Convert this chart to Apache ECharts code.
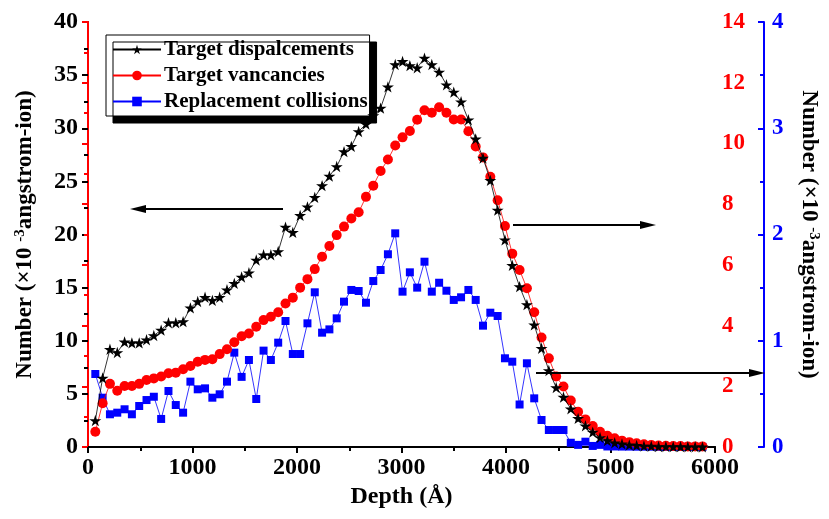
<!DOCTYPE html>
<html>
<head>
<meta charset="utf-8">
<script src="https://cdn.jsdelivr.net/npm/echarts@6/dist/echarts.min.js"></script>
<style>
  html, body { margin: 0; padding: 0; background: #fff; }
  #chart { width: 829px; height: 519px; }
</style>
</head>
<body>
<div id="chart"></div>
<script>
// depth bins (Å)
const depth = [
  70, 140, 210, 280, 350, 420, 490, 560, 630, 700,
  770, 840, 910, 980, 1050, 1120, 1190, 1260, 1330, 1400,
  1470, 1540, 1610, 1680, 1750, 1820, 1890, 1960, 2030, 2100,
  2170, 2240, 2310, 2380, 2450, 2520, 2590, 2660, 2730, 2800,
  2870, 2940, 3010, 3080, 3150, 3220, 3290, 3360, 3430, 3500,
  3570, 3640, 3710, 3780, 3850, 3920, 3990, 4060, 4130, 4200,
  4270, 4340, 4410, 4480, 4550, 4620, 4690, 4760, 4830, 4900,
  4970, 5040, 5110, 5180, 5250, 5320, 5390, 5460, 5530, 5600,
  5670, 5740, 5810, 5880
];

// left axis
const displacements = [
  2.5, 6.5, 9.2, 8.9, 9.9, 9.8, 9.8, 10.1, 10.5, 11.0,
  11.7, 11.7, 11.8, 13.1, 13.7, 14.1, 13.8, 14.1, 14.8, 15.4,
  16.0, 16.4, 17.6, 18.1, 18.1, 18.4, 20.7, 20.2, 21.8, 22.6,
  23.5, 24.6, 25.5, 26.4, 27.8, 28.3, 29.7, 30.4, 31.2, 31.9,
  33.9, 36.0, 36.3, 35.9, 35.7, 36.6, 36.0, 35.3, 34.1, 33.4,
  32.5, 30.8, 29.0, 27.2, 25.1, 22.3, 19.5, 17.1, 15.1, 13.4,
  11.5, 9.3, 7.2, 5.6, 4.7, 3.6, 2.7, 2.0, 1.4, 0.9,
  0.6, 0.4, 0.3, 0.2, 0.15, 0.1, 0.08, 0.05, 0.05, 0.03,
  0.03, 0.02, 0.02, 0.01
];

// red axis
const vacancies = [
  0.50, 1.44, 2.08, 1.85, 2.01, 2.01, 2.08, 2.21, 2.26, 2.32,
  2.43, 2.45, 2.56, 2.67, 2.81, 2.87, 2.89, 3.06, 3.22, 3.45,
  3.65, 3.74, 3.96, 4.18, 4.29, 4.44, 4.73, 4.92, 5.25, 5.53,
  5.86, 6.27, 6.62, 6.98, 7.26, 7.53, 7.73, 8.24, 8.61, 9.09,
  9.47, 9.93, 10.2, 10.41, 10.78, 11.09, 11.01, 11.19, 11.01, 10.79,
  10.79, 10.4, 9.9, 9.54, 8.9, 8.13, 7.28, 6.37, 5.83, 5.23,
  4.44, 3.61, 2.92, 2.32, 1.99, 1.53, 1.16, 0.91, 0.69, 0.50,
  0.37, 0.29, 0.21, 0.16, 0.12, 0.09, 0.07, 0.05, 0.04, 0.03,
  0.03, 0.02, 0.02, 0.02
];

// blue axis
const replacements = [
  0.687, 0.464, 0.308, 0.323, 0.355, 0.308, 0.386, 0.442, 0.473, 0.264,
  0.527, 0.395, 0.323, 0.615, 0.543, 0.552, 0.464, 0.496, 0.615, 0.888,
  0.66, 0.819, 0.452, 0.907, 0.819, 0.982, 1.186, 0.875, 0.875, 1.164,
  1.456, 1.076, 1.107, 1.211, 1.368, 1.478, 1.468, 1.358, 1.562, 1.666,
  1.814, 2.011, 1.462, 1.644, 1.5, 1.744, 1.462, 1.546, 1.471, 1.384,
  1.409, 1.478, 1.384, 1.142, 1.264, 1.233, 0.835, 0.803, 0.4, 0.788,
  0.458, 0.254, 0.16, 0.16, 0.16, 0.04, 0.02, 0.05, 0.01, 0.02,
  0.005, 0.005, 0.004, 0.004, 0.003, 0.003, 0.003, 0.002, 0.002, 0.002,
  0.002, 0.001, 0.001, 0.001
];

const seriesNames = ["Target dispalcements", "Target vancancies", "Replacement collisions"];

const FONT = '"Liberation Serif", "Times New Roman", serif';
const STAR = "path://M50,0 L61,35 L98,35 L68,57 L79,91 L50,70 L21,91 L32,57 L2,35 L39,35 Z";

function pairs(vals) {
  return depth.map((d, i) => [d, vals[i]]);
}

function arrow(x1, x2, y) {
  const dir = x2 > x1 ? 1 : -1;
  const head = 16;
  return [
    {
      type: "line",
      shape: { x1: x1, y1: y, x2: x2 - dir * head + dir * 2, y2: y },
      style: { stroke: "#000", lineWidth: 2 },
      z: 50,
    },
    {
      type: "polygon",
      shape: { points: [[x2, y], [x2 - dir * head, y - 4], [x2 - dir * head, y + 4]] },
      style: { fill: "#000" },
      z: 50,
    },
  ];
}

const labelStyle = (color, size) => ({
  color: color,
  fontFamily: FONT,
  fontWeight: "bold",
  fontSize: size,
});

const nameRich = {
  sup: { fontFamily: FONT, fontWeight: "bold", fontSize: 15, color: "#000", verticalAlign: "top", padding: [0, 0, 10, 0] },
};

const chart = echarts.init(document.getElementById("chart"));
chart.setOption({
  animation: false,
  backgroundColor: "#fff",
  grid: { left: 88, right: 113, top: 22, bottom: 72 },
  legend: {
    orient: "vertical",
    left: 106,
    top: 35,
    padding: [4, 2, 4, 6],
    itemGap: 5,
    itemWidth: 48,
    itemHeight: 12,
    backgroundColor: "#fff",
    borderColor: "#000",
    borderWidth: 1,
    shadowColor: "#000",
    shadowBlur: 0,
    shadowOffsetX: 7,
    shadowOffsetY: 7,
    textStyle: { fontFamily: FONT, fontWeight: "bold", fontSize: 21, color: "#000", padding: [0, 0, 0, -2] },
    data: seriesNames,
  },
  xAxis: [
    {
      type: "value",
      position: "bottom",
      min: 0,
      max: 6000,
      interval: 1000,
      name: "Depth (Å)",
      nameLocation: "middle",
      nameGap: 38,
      nameTextStyle: { fontFamily: FONT, fontWeight: "bold", fontSize: 24, color: "#000" },
      axisLine: { lineStyle: { color: "#000", width: 2 } },
      axisTick: { show: true, length: 6, lineStyle: { color: "#000", width: 2 } },
      minorTick: { show: true, splitNumber: 2, length: 4, lineStyle: { color: "#000", width: 2 } },
      axisLabel: Object.assign({ margin: 9, formatter: (v) => String(v) }, labelStyle("#000", 24)),
      splitLine: { show: false },
    },
    {
      type: "value",
      position: "top",
      min: 0,
      max: 6000,
      axisLine: { show: true, lineStyle: { color: "#000", width: 2 } },
      axisTick: { show: false },
      axisLabel: { show: false },
      splitLine: { show: false },
    },
  ],
  yAxis: [
    {
      type: "value",
      position: "left",
      min: 0,
      max: 40,
      interval: 5,
      name: "Number (×10 {sup|-3}angstrom-ion)",
      nameLocation: "middle",
      nameGap: 50,
      nameTextStyle: { fontFamily: FONT, fontWeight: "bold", fontSize: 23, color: "#000", rich: nameRich },
      axisLine: { show: true, lineStyle: { color: "#000", width: 2 } },
      axisTick: { show: true, length: 6, lineStyle: { color: "#000", width: 2 } },
      minorTick: { show: true, splitNumber: 2, length: 4, lineStyle: { color: "#000", width: 2 } },
      axisLabel: Object.assign({ margin: 10 }, labelStyle("#000", 24)),
      splitLine: { show: false },
    },
    {
      type: "value",
      position: "right",
      offset: 0,
      min: 0,
      max: 14,
      interval: 2,
      axisLine: { show: true, lineStyle: { color: "#ff0000", width: 2 } },
      axisTick: { show: true, inside: true, length: 6, lineStyle: { color: "#ff0000", width: 2 } },
      minorTick: { show: true, splitNumber: 2, length: 4, lineStyle: { color: "#ff0000", width: 2 } },
      axisLabel: Object.assign({ margin: 7 }, labelStyle("#ff0000", 23)),
      splitLine: { show: false },
    },
    {
      type: "value",
      position: "right",
      offset: 49,
      min: 0,
      max: 4,
      interval: 1,
      name: "Number (×10 {sup|-3}angstrom-ion)",
      nameLocation: "middle",
      nameGap: 32,
      nameRotate: -90,
      nameTextStyle: { fontFamily: FONT, fontWeight: "bold", fontSize: 23, color: "#000", rich: nameRich },
      axisLine: { show: true, lineStyle: { color: "#0000ff", width: 2 } },
      axisTick: { show: true, inside: true, length: 6, lineStyle: { color: "#0000ff", width: 2 } },
      minorTick: { show: true, splitNumber: 2, length: 4, lineStyle: { color: "#0000ff", width: 2 } },
      axisLabel: Object.assign({ margin: 8 }, labelStyle("#0000ff", 23)),
      splitLine: { show: false },
    },
  ],
  series: [
    {
      name: seriesNames[0],
      type: "line",
      yAxisIndex: 0,
      data: pairs(displacements),
      symbol: STAR,
      symbolKeepAspect: true,
      symbolSize: 12,
      itemStyle: { color: "#000" },
      lineStyle: { color: "#000", width: 0.8 },
      z: 4,
    },
    {
      name: seriesNames[1],
      type: "line",
      yAxisIndex: 1,
      data: pairs(vacancies),
      symbol: "circle",
      symbolSize: 10,
      itemStyle: { color: "#ff0000" },
      lineStyle: { color: "#ff0000", width: 0.8 },
      z: 3,
    },
    {
      name: seriesNames[2],
      type: "line",
      yAxisIndex: 2,
      data: pairs(replacements),
      symbol: "rect",
      symbolSize: 8,
      itemStyle: { color: "#0000ff" },
      lineStyle: { color: "#0000ff", width: 0.8 },
      z: 2,
    },
  ],
  graphic: [].concat(
    arrow(283, 130, 209),
    arrow(513, 656, 225),
    arrow(536, 765, 373)
  ),
});
</script>
</body>
</html>
